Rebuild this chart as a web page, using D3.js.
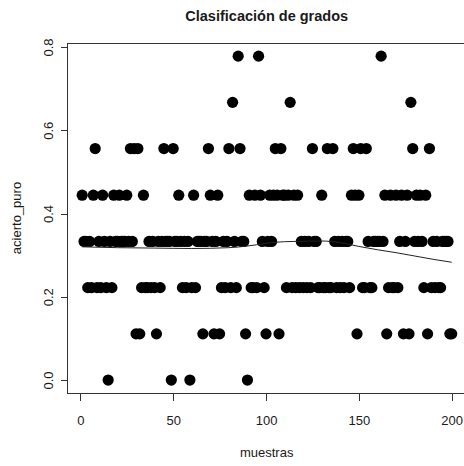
<!DOCTYPE html>
<html>
<head>
<meta charset="utf-8">
<title>Clasificación de grados</title>
<script src="https://d3js.org/d3.v7.min.js"></script>
<style>
  body { margin: 0; background: #fff; }
  svg text { font-family: "Liberation Sans", Arial, sans-serif; fill: #1a1a1a; }
  .axis line { stroke: #333; shape-rendering: crispEdges; }
</style>
</head>
<body>
<svg width="464" height="466"></svg>
<script>
// acierto_puro for each of the 200 muestras
var aciertoPuro = [
  0.444, 0.333, 0.333, 0.222, 0.333, 0.222, 0.444, 0.556, 0.222, 0.333,
  0.222, 0.444, 0.333, 0.222, 0.000, 0.333, 0.222, 0.444, 0.333, 0.333,
  0.444, 0.333, 0.333, 0.333, 0.444, 0.333, 0.556, 0.333, 0.556, 0.111,
  0.556, 0.111, 0.222, 0.444, 0.222, 0.222, 0.333, 0.222, 0.333, 0.222,
  0.111, 0.333, 0.222, 0.333, 0.556, 0.333, 0.333, 0.333, 0.000, 0.556,
  0.333, 0.333, 0.444, 0.333, 0.222, 0.333, 0.222, 0.333, 0.000, 0.222,
  0.444, 0.222, 0.333, 0.333, 0.333, 0.111, 0.333, 0.333, 0.556, 0.444,
  0.333, 0.111, 0.333, 0.444, 0.111, 0.222, 0.333, 0.222, 0.333, 0.556,
  0.222, 0.667, 0.333, 0.222, 0.778, 0.556, 0.333, 0.333, 0.111, 0.000,
  0.444, 0.222, 0.222, 0.444, 0.222, 0.778, 0.444, 0.333, 0.222, 0.111,
  0.333, 0.444, 0.333, 0.444, 0.556, 0.444, 0.111, 0.556, 0.444, 0.444,
  0.222, 0.444, 0.667, 0.222, 0.444, 0.222, 0.444, 0.222, 0.333, 0.222,
  0.333, 0.222, 0.333, 0.222, 0.556, 0.333, 0.333, 0.222, 0.222, 0.444,
  0.222, 0.222, 0.556, 0.222, 0.222, 0.556, 0.333, 0.222, 0.333, 0.222,
  0.333, 0.222, 0.333, 0.333, 0.222, 0.444, 0.556, 0.444, 0.111, 0.444,
  0.556, 0.222, 0.222, 0.556, 0.333, 0.222, 0.222, 0.333, 0.333, 0.333,
  0.333, 0.778, 0.333, 0.444, 0.111, 0.222, 0.444, 0.222, 0.222, 0.444,
  0.222, 0.333, 0.444, 0.111, 0.333, 0.444, 0.111, 0.667, 0.556, 0.333,
  0.444, 0.333, 0.444, 0.333, 0.222, 0.444, 0.111, 0.556, 0.222, 0.333,
  0.222, 0.333, 0.222, 0.222, 0.333, 0.333, 0.333, 0.333, 0.111, 0.111
];
var muestras = d3.range(1, aciertoPuro.length + 1);

// smoothed trend (lowess)
var smoothX = [1, 20, 40, 60, 80, 90, 95, 105, 115, 130, 140, 150, 160, 170, 180, 190, 200];
var smoothY = [0.320, 0.318, 0.317, 0.316, 0.318, 0.322, 0.325, 0.331, 0.333, 0.334, 0.330, 0.321, 0.313, 0.306, 0.298, 0.290, 0.283];

var xTicks = [0, 50, 100, 150, 200];
var yTicks = [0, 0.2, 0.4, 0.6, 0.8];

var svg = d3.select("svg");
svg.append("rect").attr("width", 464).attr("height", 466).attr("fill", "#fff");

// plot region (R style: 4% padding around the data range)
var x = d3.scaleLinear().domain([-6.96, 207.96]).range([67.4, 466.5]);
var y = d3.scaleLinear().domain([-0.0311, 0.8089]).range([393, 43.3]);

// points
svg.append("g").selectAll("circle")
    .data(muestras)
    .enter().append("circle")
    .attr("cx", function(d, i) { return x(d); })
    .attr("cy", function(d, i) { return y(aciertoPuro[i]); })
    .attr("r", 5.6)
    .attr("fill", "#000");

// lowess line
var line = d3.line()
    .x(function(d, i) { return x(smoothX[i]); })
    .y(function(d) { return y(d); })
    .curve(d3.curveMonotoneX);

svg.append("path")
    .datum(smoothY)
    .attr("d", line)
    .attr("fill", "none")
    .attr("stroke", "#222")
    .attr("stroke-width", 1);

// box
svg.append("rect")
    .attr("x", 67.5).attr("y", 43.5)
    .attr("width", 466.5 - 67.5).attr("height", 393.5 - 43.5)
    .attr("fill", "none")
    .attr("stroke", "#333")
    .attr("stroke-width", 1);

// x axis
var gx = svg.append("g")
    .attr("class", "axis")
    .attr("transform", "translate(0,393.5)")
    .call(d3.axisBottom(x).tickValues(xTicks).tickSize(7).tickPadding(15.5));
gx.select(".domain").remove();
gx.selectAll("text").style("font-size", "13px").attr("fill", "#1a1a1a");

// y axis
var gy = svg.append("g")
    .attr("class", "axis")
    .attr("transform", "translate(67.5,0)")
    .call(d3.axisLeft(y).tickValues(yTicks).tickSize(7).tickFormat(d3.format(".1f")));
gy.select(".domain").remove();
gy.selectAll("text")
    .style("font-size", "13px")
    .attr("fill", "#1a1a1a")
    .attr("x", null).attr("dy", null)
    .attr("text-anchor", "middle")
    .attr("transform", "translate(-14.5,0) rotate(-90)");

// titles
svg.append("text")
    .attr("x", 266.7).attr("y", 21)
    .attr("text-anchor", "middle")
    .style("font-size", "14.5px")
    .style("font-weight", "bold")
    .text("Clasificación de grados");

svg.append("text")
    .attr("x", 266.7).attr("y", 457)
    .attr("text-anchor", "middle")
    .style("font-size", "13px")
    .text("muestras");

svg.append("text")
    .attr("transform", "translate(21,218) rotate(-90)")
    .attr("text-anchor", "middle")
    .style("font-size", "13px")
    .text("acierto_puro");
</script>
</body>
</html>
